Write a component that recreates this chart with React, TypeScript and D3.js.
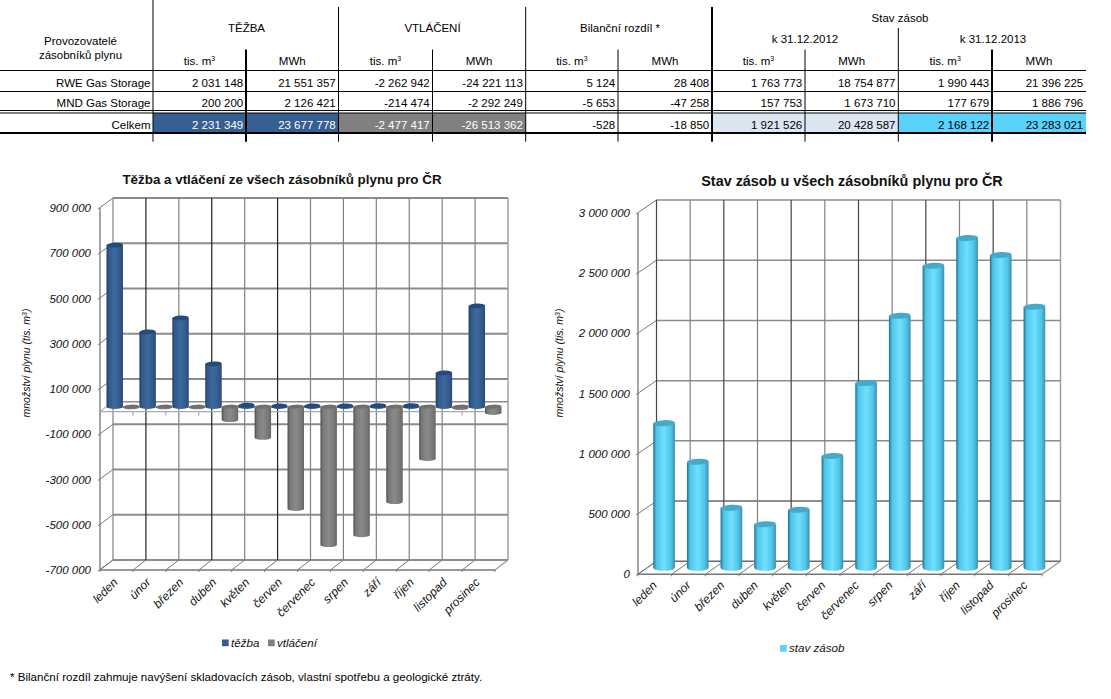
import React from 'react';
import * as d3 from 'd3';

const months = ['leden','únor','březen','duben','květen','červen','červenec','srpen','září','říjen','listopad','prosinec'];
const tezba = [714000,330000,392000,189000,6000,3000,3000,3000,4000,4000,149000,445000];
const vtlaceni = [-3000,-3000,-3000,-59000,-138000,-452000,-612000,-568000,-422000,-231000,-6000,-28000];
const stavZasob = [1201000,880000,498000,362000,482000,928000,1534000,2093000,2508000,2738000,2597000,2168122];
const leftTicks = [900000,700000,500000,300000,100000,-100000,-300000,-500000,-700000];
const rightTicks = [3000000,2500000,2000000,1500000,1000000,500000,0];

const rowNames = ['RWE Gas Storage','MND Gas Storage','Celkem'];
const rowRWE = ['2 031 148','21 551 357','-2 262 942','-24 221 113','5 124','28 408','1 763 773','18 754 877','1 990 443','21 396 225'];
const rowMND = ['200 200','2 126 421','-214 474','-2 292 249','-5 653','-47 258','157 753','1 673 710','177 679','1 886 796'];
const rowTotal = ['2 231 349','23 677 778','-2 477 417','-26 513 362','-528','-18 850','1 921 526','20 428 587','2 168 122','23 283 021'];
const unitLabels = ['tis. m','MWh','tis. m','MWh','tis. m','MWh','tis. m','MWh','tis. m','MWh'];

const colEdges = [153,246,338.5,432.5,525.7,618,712,805,898.3,992,1086];
const colThick = [1,2,1,1,1,1,2,1,1,2,0];
const colTop = [0,49.5,7,49.5,7,49.5,7,49.5,28,49.5,0];
const totalFills = ['#365f91','#365f91','#808080','#808080',null,null,'#dce6f1','#dce6f1','#5bd2fc','#5bd2fc'];
const totalText = ['#fff','#fff','#fff','#fff','#000','#000','#000','#000','#000','#000'];

const FONT = '"Liberation Sans", Arial, sans-serif';
const fmt = (v: number) => d3.format(',')(v).replace(/,/g, ' ').replace('\u2212', '-');

function gradient(id: string, c: string[]) {
  return (
    <linearGradient id={id} x1="0" x2="1" y1="0" y2="0">
      <stop offset="0" stopColor={c[0]} />
      <stop offset="0.14" stopColor={c[1]} />
      <stop offset="0.5" stopColor={c[2]} />
      <stop offset="0.82" stopColor={c[1]} />
      <stop offset="1" stopColor={c[3]} />
    </linearGradient>
  );
}

function Cyl({ xc, rx, ry, y0, y1, fill, top }: any) {
  const t = Math.min(y0, y1), b = Math.max(y0, y1);
  const d = `M${xc - rx},${t}L${xc - rx},${b}A${rx},${ry} 0 0 0 ${xc + rx},${b}L${xc + rx},${t}Z`;
  return (
    <g>
      <path d={d} fill={`url(#${fill})`} />
      <ellipse cx={xc} cy={t} rx={rx} ry={ry} fill={top} transform={`rotate(-3 ${xc} ${t})`} />
    </g>
  );
}

function Frame({ x, y, ticks, dx, dy, hColor, vColor, hw }: any) {
  const [xl, xr] = x.range();
  const [yBot, yTop] = y.range();
  const domain = x.domain();
  return (
    <g fill="none">
      {ticks.map((t: number, i: number) => (
        <g key={t}>
          <line x1={xl + dx} x2={xr + dx} y1={y(t) - dy} y2={y(t) - dy} stroke={hColor(i)} strokeWidth={hw} />
          <line x1={xl - 2} x2={xl + dx} y1={y(t) + 1} y2={y(t) - dy} stroke="#777" strokeWidth={1} />
        </g>
      ))}
      {domain.map((m: string, i: number) => (
        <g key={m}>
          <line x1={x(m) + dx} x2={x(m) + dx} y1={yTop - dy} y2={yBot - dy} stroke={vColor(i)} strokeWidth={1.2} />
          <line x1={x(m)} x2={x(m) + dx} y1={yBot} y2={yBot - dy} stroke="#777" strokeWidth={1} />
          <line x1={x(m)} x2={x(m)} y1={yBot} y2={yBot + 2} stroke="#777" strokeWidth={1} />
        </g>
      ))}
      <line x1={xr + dx} x2={xr + dx} y1={yTop - dy} y2={yBot - dy} stroke="#999" strokeWidth={1.4} />
      <line x1={xr} x2={xr + dx} y1={yBot} y2={yBot - dy} stroke="#999" strokeWidth={1.2} />
      <line x1={xr} x2={xr} y1={yBot} y2={yBot + 2} stroke="#777" strokeWidth={1} />
      <line x1={xl} x2={xl} y1={yTop} y2={yBot} stroke="#777" strokeWidth={1.3} />
      <line x1={xl} x2={xr} y1={yBot} y2={yBot} stroke="#777" strokeWidth={1.5} />
    </g>
  );
}

function YLabels({ x, y, ticks }: any) {
  return (
    <g fontFamily={FONT} fontSize={11.5} fontStyle="italic" fill="#111" textAnchor="end">
      {ticks.map((t: number) => (
        <text key={t} x={x} y={y(t) + 4}>{fmt(t)}</text>
      ))}
    </g>
  );
}

function XLabels({ x, y, off }: any) {
  return (
    <g fontFamily={FONT} fontSize={12} fontStyle="italic" fill="#111" textAnchor="end">
      {x.domain().map((m: string) => {
        const px = x(m) + x.bandwidth() / 2 + off;
        return <text key={m} transform={`translate(${px},${y}) rotate(-45)`}>{m}</text>;
      })}
    </g>
  );
}

function YTitle({ x, y }: any) {
  return (
    <text transform={`translate(${x},${y}) rotate(-90)`} textAnchor="middle" fontFamily={FONT} fontSize={10.5} fontStyle="italic" fill="#111">
      množství plynu (tis. m<tspan dy={-3} fontSize={7}>3</tspan><tspan dy={3}>)</tspan>
    </text>
  );
}

function Table() {
  const cellRight = (i: number) => colEdges[i + 1] - 2.8;
  const cellMid = (i: number) => (colEdges[i] + colEdges[i + 1]) / 2;
  const rows = [rowRWE, rowMND, rowTotal];
  const baselines = [87, 107, 128.5];
  return (
    <g fontFamily={FONT} fontSize={11.5} fill="#000">
      {totalFills.map((f, i) => f && <rect key={i} x={colEdges[i]} y={113} width={colEdges[i + 1] - colEdges[i]} height={19.5} fill={f} />)}
      <g stroke="#000" strokeWidth={1}>
        <line x1={0} x2={1086} y1={70.5} y2={70.5} />
        <line x1={0} x2={1086} y1={91.5} y2={91.5} />
        <line x1={0} x2={1086} y1={110.5} y2={110.5} />
        <line x1={0} x2={1086} y1={113} y2={113} />
        <line x1={0} x2={1086} y1={133} y2={133} strokeWidth={2} />
        {colEdges.slice(0, -1).map((e, i) => (
          <line key={i} x1={e} x2={e} y1={colTop[i]} y2={141.7} strokeWidth={colThick[i]} />
        ))}
      </g>
      <text x={80.5} y={45} textAnchor="middle">Provozovatelé</text>
      <text x={80.5} y={59} textAnchor="middle">zásobníků plynu</text>
      <text x={246.5} y={31.5} textAnchor="middle">TĚŽBA</text>
      <text x={432.5} y={31.5} textAnchor="middle">VTLÁČENÍ</text>
      <text x={620} y={31.5} textAnchor="middle">Bilanční rozdíl *</text>
      <text x={900} y={21.5} textAnchor="middle">Stav zásob</text>
      <text x={805} y={42.5} textAnchor="middle">k 31.12.2012</text>
      <text x={993} y={42.5} textAnchor="middle">k 31.12.2013</text>
      {unitLabels.map((u, i) => (
        <text key={i} x={cellMid(i)} y={64.5} textAnchor="middle">
          {u}{u.startsWith('tis') && <tspan dy={-4} fontSize={7}>3</tspan>}
        </text>
      ))}
      {rows.map((r, ri) => (
        <g key={ri}>
          <text x={150.5} y={baselines[ri]} textAnchor="end">{rowNames[ri]}</text>
          {r.map((v, i) => (
            <text key={i} x={cellRight(i)} y={baselines[ri]} textAnchor="end" fill={ri === 2 ? totalText[i] : '#000'}>{v}</text>
          ))}
        </g>
      ))}
    </g>
  );
}

function LeftChart() {
  const dx = 13, dy = 10;
  const x = d3.scaleBand<string>().domain(months).range([100, 495]);
  const y = d3.scaleLinear().domain([-700000, 900000]).range([570, 208]);
  const inner = d3.scaleBand<string>().domain(['tezba', 'vtlaceni']).range([0, x.bandwidth()]);
  const rx = inner.bandwidth() / 2;
  const bar = (m: string, s: string, v: number, fill: string, top: string, ry: number) => (
    <Cyl key={m + s} xc={(x(m) as number) + (inner(s) as number) + rx + dx / 2} rx={rx} ry={ry} y0={y(0) - dy / 2} y1={y(v) - dy / 2} fill={fill} top={top} />
  );
  return (
    <g>
      <Frame x={x} y={y} ticks={leftTicks} dx={dx} dy={dy}
        hColor={() => '#8c8c8c'} hw={1.8}
        vColor={(i: number) => (i < 6 && i % 2 ? '#222' : '#808080')} />
      <line x1={100} x2={113} y1={y(0)} y2={y(0) - dy} stroke="#999" />
      <line x1={113} x2={508} y1={y(0) - dy} y2={y(0) - dy} stroke="#8c8c8c" strokeWidth={1.5} />
      <line x1={100} x2={495} y1={y(0)} y2={y(0)} stroke="#aaa" strokeWidth={1.3} />
      {months.map((m) => (
        <line key={m} x1={x(m) as number} x2={x(m) as number} y1={y(0)} y2={y(0) + 4} stroke="#999" />
      ))}
      {months.map((m, i) => bar(m, 'vtlaceni', vtlaceni[i], 'gGrey', '#6f6f6f', 2))}
      {months.map((m, i) => bar(m, 'tezba', tezba[i], 'gBlue', '#244b7a', 2.4))}
      <YLabels x={91} y={y} ticks={leftTicks} />
      <XLabels x={x} y={583} off={2} />
      <YTitle x={30} y={363} />
      <text x={282} y={184} textAnchor="middle" fontFamily={FONT} fontSize={13.4} fontWeight="bold" fill="#111">Těžba a vtláčení ze všech zásobníků plynu pro ČR</text>
      <g fontFamily={FONT} fontSize={11.6} fontStyle="italic" fill="#111">
        <rect x={222} y={639.5} width={6.7} height={6.7} fill="#365f91" />
        <text x={231} y={646.5}>těžba</text>
        <rect x={268} y={639.5} width={6.7} height={6.7} fill="#808080" />
        <text x={277} y={646.5}>vtláčení</text>
      </g>
    </g>
  );
}

function RightChart() {
  const dx = 18.5, dy = 13;
  const x = d3.scaleBand<string>().domain(months).range([638, 1042]);
  const y = d3.scaleLinear().domain([0, 3000000]).range([574.3, 213]);
  const rx = x.bandwidth() * 0.322;
  return (
    <g>
      <Frame x={x} y={y} ticks={rightTicks} dx={dx} dy={dy}
        hColor={(i: number) => (i >= 5 ? '#6a6a6a' : '#8c8c8c')} hw={1.5}
        vColor={(i: number) => (i % 2 ? '#808080' : '#444')} />
      {months.map((m, i) => (
        <Cyl key={m} xc={(x(m) as number) + x.bandwidth() / 2 + dx / 2} rx={rx} ry={3} y0={y(0) - dy / 2} y1={y(stavZasob[i]) - dy / 2} fill="gCyan" top="#45a9c9" />
      ))}
      <YLabels x={630} y={y} ticks={rightTicks} />
      <XLabels x={x} y={586} off={3} />
      <YTitle x={563} y={363} />
      <text x={852} y={186} textAnchor="middle" fontFamily={FONT} fontSize={14.4} fontWeight="bold" fill="#111">Stav zásob u všech zásobníků plynu pro ČR</text>
      <g fontFamily={FONT} fontSize={11.6} fontStyle="italic" fill="#111">
        <rect x={780} y={645} width={6.7} height={6.7} fill="#5bd2fc" />
        <text x={789} y={652}>stav zásob</text>
      </g>
    </g>
  );
}

export default function App() {
  return (
    <svg width={1111} height={699} style={{ position: 'absolute', left: 0, top: 0, background: '#fff' }}>
      <defs>
        {gradient('gBlue', ['#1d3a5c', '#33598a', '#3d6a9e', '#2a4a72'])}
        {gradient('gGrey', ['#4a4a4a', '#787878', '#8a8a8a', '#666666'])}
        {gradient('gCyan', ['#1f6f8c', '#4fc4e8', '#6fe0ff', '#3d8fa9'])}
      </defs>
      <Table />
      <LeftChart />
      <RightChart />
      <text x={10} y={681} fontFamily={FONT} fontSize={11.6} fill="#000">* Bilanční rozdíl zahmuje navýšení skladovacích zásob, vlastní spotřebu a geologické ztráty.</text>
    </svg>
  );
}
